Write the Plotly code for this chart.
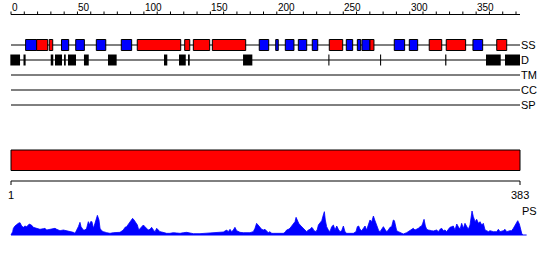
import plotly.graph_objects as go

# ---------------- data ----------------
LENGTH = 383
SEQ_START = 1
RULER_LABELS = [0, 50, 100, 150, 200, 250, 300, 350]
RULER_TICKS = list(range(0, 381, 10))

# secondary structure: strands (blue) and helices (red), residue start/end
SS_STRAND = [(11, 19.3), (38, 43.4), (48.7, 55.2), (64.2, 71.3), (83, 90.8),
             (186.8, 193.9), (199.2, 201.1), (206.4, 212.9), (216.2, 222.5),
             (226.7, 230.8), (252.3, 257.1), (260.6, 263.1), (264.1, 270.1),
             (288.4, 296.2), (299.7, 306), (347.6, 354.9)]
SS_HELIX = [(19.3, 27.6), (28.8, 31.4), (95, 127.7), (130.7, 134.5),
            (137.2, 149.5), (151.5, 176.6), (239.5, 249.6), (270.1, 273.1),
            (314.7, 324.1), (327.5, 342.1), (365.5, 373)]
# disorder segments
DISORDER = [(-0.5, 6.8), (9.4, 11), (29.9, 31.8), (33.1, 38.4), (39.9, 41.2),
            (42.9, 48.9), (54.9, 58.5), (73, 79.5), (115.1, 117.6),
            (126.4, 131.5), (133.2, 134.5), (174.6, 181.6), (238.8, 239.6),
            (277.7, 278.5), (326.7, 327.6), (357.4, 368.5), (371.7, 383)]
ROW_LABELS = ["SS", "D", "TM", "CC", "SP"]

# PS profile (residue, score)
PS_POS = [0.0, 1.25, 1.8, 3.0, 5.5, 6.8, 8.0, 9.3, 10.5, 11.8, 13.8, 15.6, 16.8,
          19.3, 21.8, 24.3, 25.6, 26.8, 29.3, 31.9, 33.1, 34.4, 36.9, 39.4,
          41.9, 44.4, 46.9, 48.2, 49.4, 50.7, 51.9, 52.7, 54.4, 55.7, 56.9,
          58.2, 58.9, 59.9, 60.9, 62.0, 63.2, 65.0, 66.2, 67.0, 68.2, 69.5,
          72.0, 74.5, 77.0, 79.5, 82.0, 84.5, 85.8, 87.0, 89.0, 90.3, 91.5,
          92.6, 94.1, 95.1, 96.1, 97.1, 98.3, 99.6, 100.8, 102.1, 103.3, 104.6,
          105.8, 107.1, 108.4, 109.6, 110.9, 112.1, 113.4, 114.6, 117.1, 119.6,
          122.1, 124.7, 127.2, 129.7, 132.2, 134.7, 137.2, 142.2, 144.7, 147.2,
          149.7, 152.2, 154.8, 157.3, 159.8, 162.3, 163.5, 164.8, 166.0, 167.3,
          168.5, 169.8, 172.3, 174.8, 177.3, 179.8, 182.3, 183.6, 184.8, 186.1,
          187.4, 188.6, 189.9, 191.1, 192.4, 193.6, 194.9, 196.1, 197.4, 199.9,
          204.9, 206.2, 207.4, 208.7, 209.9, 211.2, 212.5, 213.7, 214.5, 215.5,
          216.5, 217.5, 218.7, 220.0, 221.2, 222.5, 223.7, 225.0, 226.3, 227.0,
          228.0, 229.5, 230.5, 231.3, 232.5, 233.8, 235.0, 235.8, 236.5, 237.5,
          238.8, 240.0, 241.3, 242.6, 243.8, 245.1, 246.3, 247.6, 248.8, 250.1,
          251.3, 252.6, 255.1, 257.6, 259.6, 260.6, 261.6, 262.6, 263.9, 265.1,
          266.4, 267.6, 268.9, 270.1, 271.4, 272.7, 273.7, 274.7, 275.7, 276.7,
          277.7, 278.9, 280.2, 281.4, 282.7, 283.9, 285.2, 286.4, 287.7, 288.5,
          289.2, 290.2, 291.5, 292.7, 294.0, 295.2, 297.7, 299.0, 300.2, 301.5,
          302.7, 304.0, 305.3, 306.5, 307.8, 309.0, 309.8, 310.8, 311.8, 312.8,
          314.0, 315.3, 316.5, 317.8, 319.1, 320.3, 321.6, 322.8, 324.1, 325.3,
          326.6, 327.8, 329.1, 330.3, 331.6, 332.8, 334.1, 335.4, 336.6, 337.9,
          339.1, 340.4, 341.6, 342.9, 344.1, 345.4, 346.1, 346.9, 347.9, 349.2,
          350.4, 351.7, 352.9, 354.2, 355.4, 356.7, 357.9, 359.2, 360.4, 362.9,
          365.5, 366.7, 368.0, 370.5, 371.7, 373.0, 375.5, 376.7, 378.0, 379.2,
          380.5, 381.3, 382.5, 383.5, 384.3, 385.0]
PS_VAL = [0.00, 0.10, 0.20, 0.27, 0.35, 0.37, 0.27, 0.23, 0.27, 0.25, 0.33, 0.29,
          0.23, 0.19, 0.17, 0.19, 0.20, 0.15, 0.17, 0.19, 0.20, 0.17, 0.13, 0.15,
          0.13, 0.11, 0.08, 0.05, 0.13, 0.25, 0.38, 0.25, 0.15, 0.15, 0.20,
          0.40, 0.30, 0.40, 0.40, 0.20, 0.35, 0.59, 0.45, 0.20, 0.13, 0.10,
          0.07, 0.05, 0.07, 0.08, 0.08, 0.15, 0.23, 0.25, 0.35, 0.45, 0.50,
          0.45, 0.35, 0.30, 0.15, 0.20, 0.27, 0.30, 0.25, 0.20, 0.15, 0.17,
          0.23, 0.15, 0.10, 0.20, 0.13, 0.10, 0.09, 0.07, 0.05, 0.05,
          0.07, 0.06, 0.05, 0.07, 0.08, 0.06, 0.04, 0.04, 0.05, 0.06,
          0.07, 0.06, 0.07, 0.08, 0.09, 0.15, 0.10, 0.17, 0.10, 0.15,
          0.23, 0.13, 0.08, 0.07, 0.06, 0.07, 0.10, 0.20, 0.35, 0.27,
          0.23, 0.17, 0.15, 0.17, 0.13, 0.07, 0.10, 0.05, 0.05, 0.05,
          0.05, 0.08, 0.15, 0.17, 0.20, 0.27, 0.33, 0.40, 0.53, 0.43,
          0.35, 0.30, 0.25, 0.17, 0.15, 0.10, 0.15, 0.17, 0.23, 0.20,
          0.13, 0.10, 0.17, 0.30, 0.35, 0.43, 0.60, 0.70, 0.45, 0.25,
          0.15, 0.10, 0.25, 0.30, 0.15, 0.27, 0.17, 0.10, 0.13, 0.27,
          0.10, 0.05, 0.05, 0.05, 0.10, 0.25, 0.27, 0.17, 0.13, 0.20,
          0.27, 0.15, 0.30, 0.45, 0.40, 0.57, 0.45, 0.35, 0.23, 0.13,
          0.10, 0.17, 0.25, 0.17, 0.10, 0.15, 0.23, 0.25, 0.45, 0.43,
          0.25, 0.13, 0.10, 0.07, 0.05, 0.03, 0.07, 0.10, 0.13, 0.15,
          0.20, 0.15, 0.17, 0.20, 0.25, 0.27, 0.35, 0.47, 0.27, 0.17,
          0.15, 0.15, 0.13, 0.12, 0.13, 0.15, 0.10, 0.17, 0.20, 0.13,
          0.15, 0.10, 0.17, 0.23, 0.25, 0.27, 0.15, 0.33, 0.25, 0.17,
          0.35, 0.20, 0.35, 0.23, 0.17, 0.30, 0.60, 0.72, 0.55, 0.40,
          0.47, 0.35, 0.40, 0.30, 0.35, 0.15, 0.13, 0.10, 0.13, 0.10,
          0.10, 0.17, 0.10, 0.13, 0.17, 0.10, 0.13, 0.13, 0.20, 0.30,
          0.40, 0.43, 0.33, 0.15, 0.05, 0.00]

# ---------------- layout geometry (pixel rows) ----------------
W, H = 550, 260
X0_PX, X1_PX = 11, 520
SCALE = (X1_PX - X0_PX) / LENGTH
XRANGE = [-X0_PX / SCALE, (W - X0_PX) / SCALE]

RULER_Y = 14.5
ROW_Y = [45, 60, 75, 90, 105]
BOX_H = 5.5
BAR_Y0, BAR_Y1 = 150, 170.5
AXIS2_Y = 181
PS_BASE, PS_TOP = 235, 211
PS_MAX = 0.72

BLACK = "#000000"
BLUE = "#0000FF"
RED = "#FF0000"
FONT = "Liberation Sans"

shapes = []
annotations = []

# top ruler
shapes.append(dict(type="line", xref="x", yref="y", x0=0, x1=LENGTH,
                   y0=RULER_Y, y1=RULER_Y, line=dict(color=BLACK, width=1)))
for t in RULER_TICKS:
    shapes.append(dict(type="line", xref="x", yref="y", x0=t, x1=t,
                       y0=RULER_Y - 3, y1=RULER_Y, line=dict(color=BLACK, width=1)))
for t in RULER_LABELS:
    annotations.append(dict(x=t, y=7, xref="x", yref="y", text=str(t),
                            showarrow=False, xanchor="left", yanchor="middle",
                            xshift=-1, font=dict(family=FONT, size=10, color=BLACK)))

# track lines and labels
for y, lab in zip(ROW_Y, ROW_LABELS):
    shapes.append(dict(type="line", xref="x", yref="y", x0=0, x1=LENGTH,
                       y0=y, y1=y, line=dict(color=BLACK, width=1)))
    annotations.append(dict(x=LENGTH, y=y, xref="x", yref="y", text=lab,
                            showarrow=False, xanchor="left", yanchor="middle",
                            xshift=-1, font=dict(family=FONT, size=11, color=BLACK)))

# SS boxes
for segs, col in ((SS_STRAND, BLUE), (SS_HELIX, RED)):
    for s, e in segs:
        shapes.append(dict(type="rect", xref="x", yref="y", x0=s, x1=e,
                           y0=ROW_Y[0] - BOX_H, y1=ROW_Y[0] + BOX_H,
                           fillcolor=col, line=dict(color=BLACK, width=1)))
# disorder boxes
for s, e in DISORDER:
    shapes.append(dict(type="rect", xref="x", yref="y", x0=s, x1=e,
                       y0=ROW_Y[1] - BOX_H, y1=ROW_Y[1] + BOX_H,
                       fillcolor=BLACK, line=dict(width=0)))

# full-length red bar
shapes.append(dict(type="rect", xref="x", yref="y", x0=SEQ_START - 1, x1=LENGTH,
                   y0=BAR_Y0, y1=BAR_Y1, fillcolor=RED,
                   line=dict(color=BLACK, width=1)))
# bottom ruler
shapes.append(dict(type="line", xref="x", yref="y", x0=SEQ_START - 1, x1=LENGTH,
                   y0=AXIS2_Y, y1=AXIS2_Y, line=dict(color=BLACK, width=1)))
for t in (SEQ_START - 1, LENGTH):
    shapes.append(dict(type="line", xref="x", yref="y", x0=t, x1=t,
                       y0=AXIS2_Y, y1=AXIS2_Y + 4, line=dict(color=BLACK, width=1)))
annotations.append(dict(x=SEQ_START - 1, y=195, xref="x", yref="y", text=str(SEQ_START),
                        showarrow=False, xanchor="center", yanchor="middle",
                        font=dict(family=FONT, size=11, color=BLACK)))
annotations.append(dict(x=LENGTH, y=195, xref="x", yref="y", text=str(LENGTH),
                        showarrow=False, xanchor="center", yanchor="middle",
                        font=dict(family=FONT, size=11, color=BLACK)))
annotations.append(dict(x=LENGTH, y=211, xref="x", yref="y", text="PS",
                        showarrow=False, xanchor="left", yanchor="middle",
                        xshift=0, font=dict(family=FONT, size=11, color=BLACK)))

# PS baseline
shapes.append(dict(type="line", xref="x", yref="y", x0=SEQ_START - 1, x1=LENGTH + 5,
                   y0=PS_BASE, y1=PS_BASE, line=dict(color=BLUE, width=1)))

fig = go.Figure()
fig.add_trace(go.Scatter(x=PS_POS, y=PS_VAL, xaxis="x", yaxis="y2",
                         mode="lines", fill="tozeroy", fillcolor=BLUE,
                         line=dict(color=BLUE, width=0.8), hoverinfo="skip"))
# invisible trace to anchor main y axis
fig.add_trace(go.Scatter(x=[0], y=[0], xaxis="x", yaxis="y", mode="markers",
                         marker=dict(opacity=0), hoverinfo="skip"))

fig.update_layout(
    width=W, height=H, margin=dict(l=0, r=0, t=0, b=0),
    paper_bgcolor="white", plot_bgcolor="white", showlegend=False,
    xaxis=dict(range=XRANGE, domain=[0, 1], visible=False, fixedrange=True),
    yaxis=dict(range=[H, 0], domain=[0, 1], visible=False, fixedrange=True),
    yaxis2=dict(range=[0, PS_MAX], domain=[(H - PS_BASE) / H, (H - PS_TOP) / H],
                anchor="x", visible=False, fixedrange=True),
    shapes=shapes, annotations=annotations,
)

fig.write_html("out.html", config={"displayModeBar": False})
